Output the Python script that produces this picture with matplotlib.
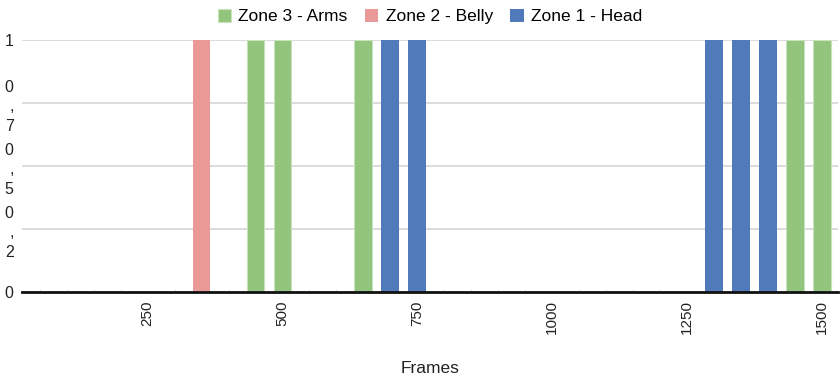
import matplotlib.pyplot as plt
from matplotlib.ticker import MultipleLocator

plt.rcParams['font.family'] = ['Liberation Sans', 'DejaVu Sans']

# frames where each zone was hit (value 1 = contact)
arms_frames = [450, 500, 650, 1450, 1500]
arms_vals = [1, 1, 1, 1, 1]
belly_frames = [350]
belly_vals = [1]
head_frames = [700, 750, 1300, 1350, 1400]
head_vals = [1, 1, 1, 1, 1]

x_ticks = [250, 500, 750, 1000, 1250, 1500]
y_ticks = [0, 0.25, 0.5, 0.75, 1]
y_ticklabels = ['0', '0\n,\n2', '0\n,\n5', '0\n,\n7', '1']

c_arms = '#93c47d'
c_belly = '#ea9999'
c_head = '#517aba'

fig = plt.figure(figsize=(8.4, 3.79), dpi=100)
ax = fig.add_axes([22/840, 1 - 292/379, 816/840, 252/379])

w = 33
ax.bar(arms_frames, arms_vals, width=w, color=c_arms, edgecolor='#c8e3bb',
       linewidth=0.8, label='Zone 3 - Arms', zorder=3)
ax.bar(belly_frames, belly_vals, width=w, color=c_belly, label='Zone 2 - Belly', zorder=3)
ax.bar(head_frames, head_vals, width=w, color=c_head, label='Zone 1 - Head', zorder=3)

ax.set_xlim(17, 1530)
ax.set_ylim(0, 1)
ax.set_xticks(x_ticks)
ax.set_xticklabels([str(t) for t in x_ticks], rotation=90, fontsize=11, color='#222222')
ax.xaxis.set_minor_locator(MultipleLocator(50))
ax.tick_params(axis='x', which='major', length=0, pad=6)
ax.tick_params(axis='x', which='minor', length=1.5, direction='in', color='#999999')

ax.set_yticks(y_ticks)
ax.set_yticklabels(y_ticklabels, fontsize=11.5, color='#222222', linespacing=1.4)
ax.tick_params(axis='y', length=0, pad=6)

ax.grid(axis='y', color='#d9d9d9', linewidth=1.3, zorder=0)
for s in ['top', 'right', 'left']:
    ax.spines[s].set_visible(False)
ax.spines['bottom'].set_linewidth(2)
ax.spines['bottom'].set_color('#111111')
ax.spines['bottom'].set_zorder(4)

ax.set_xlabel('Frames', fontsize=12.5, color='#222222')
ax.xaxis.set_label_coords(0.5, -0.275)

leg = fig.legend(loc='upper center', bbox_to_anchor=(0.512, 1.018), ncol=3,
                 frameon=False, fontsize=12.5, handlelength=0.75, handleheight=0.75,
                 handletextpad=0.45, columnspacing=1.0)

fig.savefig('out.png', dpi=100)
